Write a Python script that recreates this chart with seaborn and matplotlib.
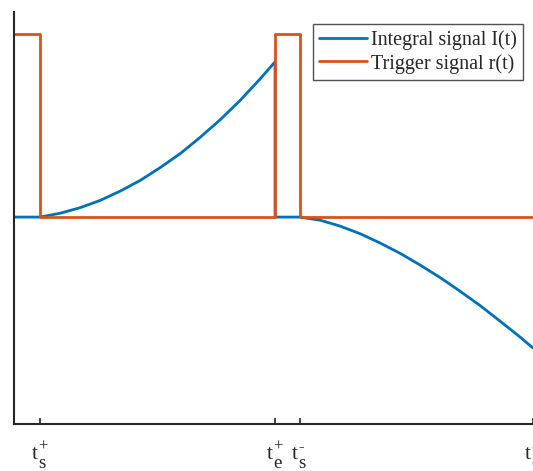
import numpy as np
import pandas as pd
import seaborn as sns
import matplotlib.pyplot as plt

# ------------------------------- data ------------------------------- #
# time axis (arbitrary units), key instants
tick_pos = [0.5, 5.03, 5.51, 10.0]
tick_base = ['t', 't', 't', 't']
tick_sup = ['+', '+', '-', '-']
tick_sub = ['s', 'e', 's', 'e']

# trigger signal r(t): square pulses
trigger_t = [0.0, 0.5, 0.5, 5.03, 5.03, 5.51, 5.51, 10.0]
trigger_r = [1.0, 1.0, 0.0, 0.0, 1.0, 1.0, 0.0, 0.0]

# integral signal I(t)
rise_t = [0.50, 0.89, 1.27, 1.66, 2.04, 2.43, 2.81, 3.20, 3.58, 3.97, 4.36, 4.74, 5.03]
rise_i = [0.000, 0.021, 0.051, 0.091, 0.141, 0.200, 0.269, 0.346, 0.434, 0.531, 0.638, 0.754, 0.848]
fall_t = [5.51, 5.90, 6.28, 6.67, 7.05, 7.44, 7.82, 8.21, 8.59, 8.98, 9.36, 9.75, 10.0]
fall_i = [0.000, -0.017, -0.049, -0.091, -0.141, -0.198, -0.261, -0.330, -0.404, -0.483, -0.567, -0.655, -0.715]

integral_t = [0.0] + rise_t + [5.03] + fall_t
integral_i = [0.0] + rise_i + [0.0] + fall_i

# ------------------------------- style ------------------------------ #
sns.set_style("ticks")
plt.rcParams['font.family'] = ['Liberation Serif', 'DejaVu Serif']

blue = '#0072BD'
orange = '#D95319'
spine_color = '#262626'

fig = plt.figure(figsize=(5.33, 4.71), dpi=100)
ax = fig.add_axes([14 / 533, 47 / 471, 519 / 533, 412 / 471])

df_i = pd.DataFrame({"t": integral_t, "v": integral_i})
df_r = pd.DataFrame({"t": trigger_t, "v": trigger_r})

sns.lineplot(data=df_i, x="t", y="v", estimator=None, sort=False,
             color=blue, linewidth=2, label="Integral signal I(t)", ax=ax)
sns.lineplot(data=df_r, x="t", y="v", estimator=None, sort=False,
             color=orange, linewidth=2, label="Trigger signal r(t)", ax=ax)

ax.set_xlim(0, 10.0)
ax.set_ylim(-1.13, 1.12)
ax.set_xticks(tick_pos)
ax.set_xticklabels([''] * len(tick_pos))
ax.set_yticks([])
ax.set(xlabel='', ylabel='')
ax.tick_params(axis='x', direction='in', length=4, width=1.2, color=spine_color)

# tick labels: t with super/subscript at near full size (MATLAB tex look)
for pos, base, sup, sub in zip(tick_pos, tick_base, tick_sup, tick_sub):
    kw = dict(xy=(pos, 0), xycoords=('data', 'axes fraction'),
              textcoords='offset pixels', ha='left', va='baseline',
              annotation_clip=False)
    ax.annotate(base, xytext=(-8.5, -35), fontsize=15.5, **kw)
    ax.annotate(sup, xytext=(-1.5, -27), fontsize=12, **kw)
    ax.annotate(sub, xytext=(-1.5, -43.5), fontsize=13.5, **kw)

sns.despine(ax=ax, top=True, right=True)
for side in ['left', 'bottom']:
    ax.spines[side].set_color(spine_color)
    ax.spines[side].set_linewidth(1.5)

leg = ax.legend(loc='upper right', bbox_to_anchor=(509 / 519, 1 - 12 / 412),
                fontsize=14.5, frameon=True, fancybox=False, borderpad=0.3,
                handlelength=2.4, handletextpad=0.2, labelspacing=0.2,
                borderaxespad=0)
leg.get_frame().set_edgecolor('#262626')
leg.get_frame().set_linewidth(1.0)

plt.savefig('out.png', dpi=100)
